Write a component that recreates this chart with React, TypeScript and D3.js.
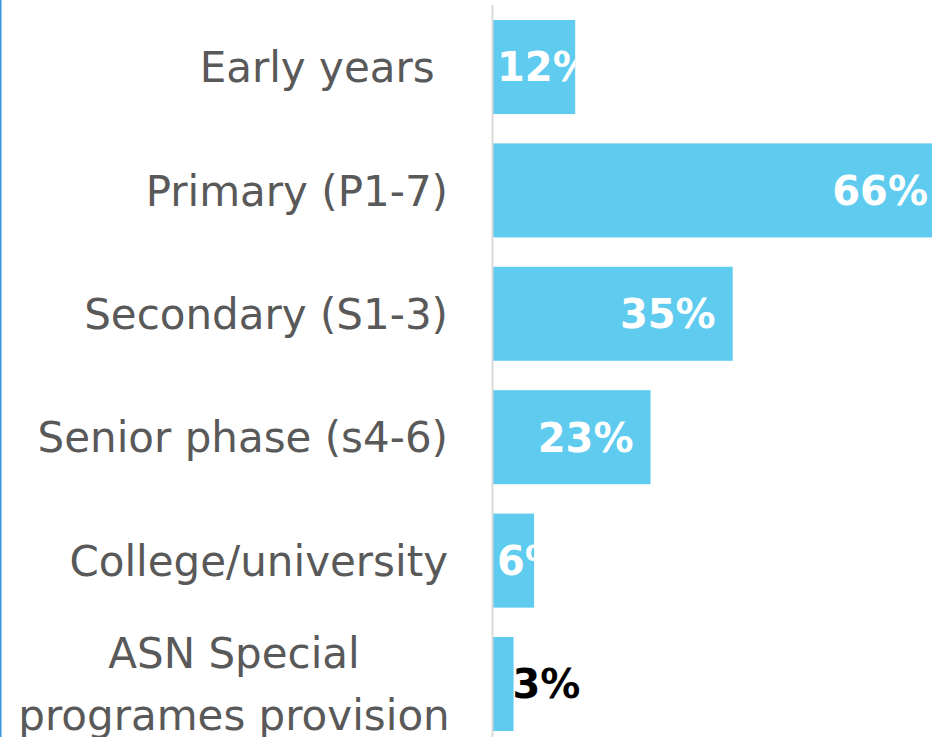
import React, { useEffect, useRef } from 'react';
import * as d3 from 'd3';

const categories = [
  'Early years ',
  'Primary (P1-7)',
  'Secondary (S1-3)',
  'Senior phase (s4-6)',
  'College/university',
  'ASN Special\nprogrames provision',
];
const values = [12, 66, 35, 23, 6, 3];

const width = 932,
  height = 737;

const App = () => {
  const svgRef = useRef<SVGSVGElement>(null);

  useEffect(() => {
    const svg = d3.select(svgRef.current);
    svg.selectAll('*').remove();

    const x = d3.scaleLinear().domain([0, 66]).range([493, 945]);
    const y = d3.scaleBand<number>()
      .domain(d3.range(categories.length))
      .range([5.3, 745.7])
      .paddingInner(0.238)
      .paddingOuter(0.119);

    // left border line
    svg.append('line')
      .attr('x1', 0.5).attr('x2', 0.5)
      .attr('y1', 0).attr('y2', height)
      .attr('stroke', '#3a98dc')
      .attr('stroke-width', 2);

    const defs = svg.append('defs');
    values.forEach((v, i) => {
      defs.append('clipPath').attr('id', `clip${i}`)
        .append('rect')
        .attr('x', x(0)).attr('y', y(i)!)
        .attr('width', x(v) - x(0)).attr('height', y.bandwidth());
    });

    svg.append('g')
      .selectAll('rect')
      .data(values)
      .join('rect')
      .attr('x', x(0))
      .attr('y', (d, i) => y(i)!)
      .attr('width', d => x(d) - x(0))
      .attr('height', y.bandwidth())
      .attr('fill', '#5ecbef');

    // axis line
    svg.append('line')
      .attr('x1', x(0) - 0.5).attr('x2', x(0) - 0.5)
      .attr('y1', 5).attr('y2', height)
      .attr('stroke', '#d9d9d9')
      .attr('stroke-width', 2);

    // category labels
    const labels = svg.append('g')
      .attr('font-family', 'DejaVu Sans')
      .attr('font-size', 42)
      .attr('fill', '#595959');
    categories.forEach((c, i) => {
      const lines = c.split('\n');
      const cy = y(i)! + y.bandwidth() / 2;
      if (lines.length === 1) {
        labels.append('text')
          .attr('x', 448)
          .attr('y', cy)
          .attr('dy', '0.36em')
          .attr('text-anchor', 'end')
          .attr('xml:space', 'preserve')
          .style('white-space', 'pre')
          .text(c);
      } else {
        lines.forEach((l, j) => {
          labels.append('text')
            .attr('x', 234)
            .attr('y', cy + (j - (lines.length - 1) / 2) * 62)
            .attr('dy', '0.36em')
            .attr('text-anchor', 'middle')
            .text(l);
        });
      }
    });

    // value labels
    const vl = svg.append('g')
      .attr('font-family', 'DejaVu Sans')
      .attr('font-weight', 'bold')
      .attr('font-size', 40);
    values.forEach((v, i) => {
      const cy = y(i)! + y.bandwidth() / 2;
      const barW = x(v) - x(0);
      if (v < 5) {
        vl.append('text')
          .attr('x', x(v) - 1)
          .attr('y', cy)
          .attr('dy', '0.36em')
          .attr('fill', '#000000')
          .text(`${v}%`);
      } else if (barW < 100) {
        vl.append('text')
          .attr('x', x(0) + 4)
          .attr('y', cy)
          .attr('dy', '0.36em')
          .attr('fill', '#ffffff')
          .attr('clip-path', `url(#clip${i})`)
          .text(`${v}%`);
      } else {
        vl.append('text')
          .attr('x', x(v) - 17)
          .attr('y', cy)
          .attr('dy', '0.36em')
          .attr('text-anchor', 'end')
          .attr('fill', '#ffffff')
          .text(`${v}%`);
      }
    });
  }, []);

  return (
    <svg ref={svgRef} width={width} height={height} style={{ display: 'block', position: 'absolute', left: 0, top: 0 }}></svg>
  );
};

export default App;
